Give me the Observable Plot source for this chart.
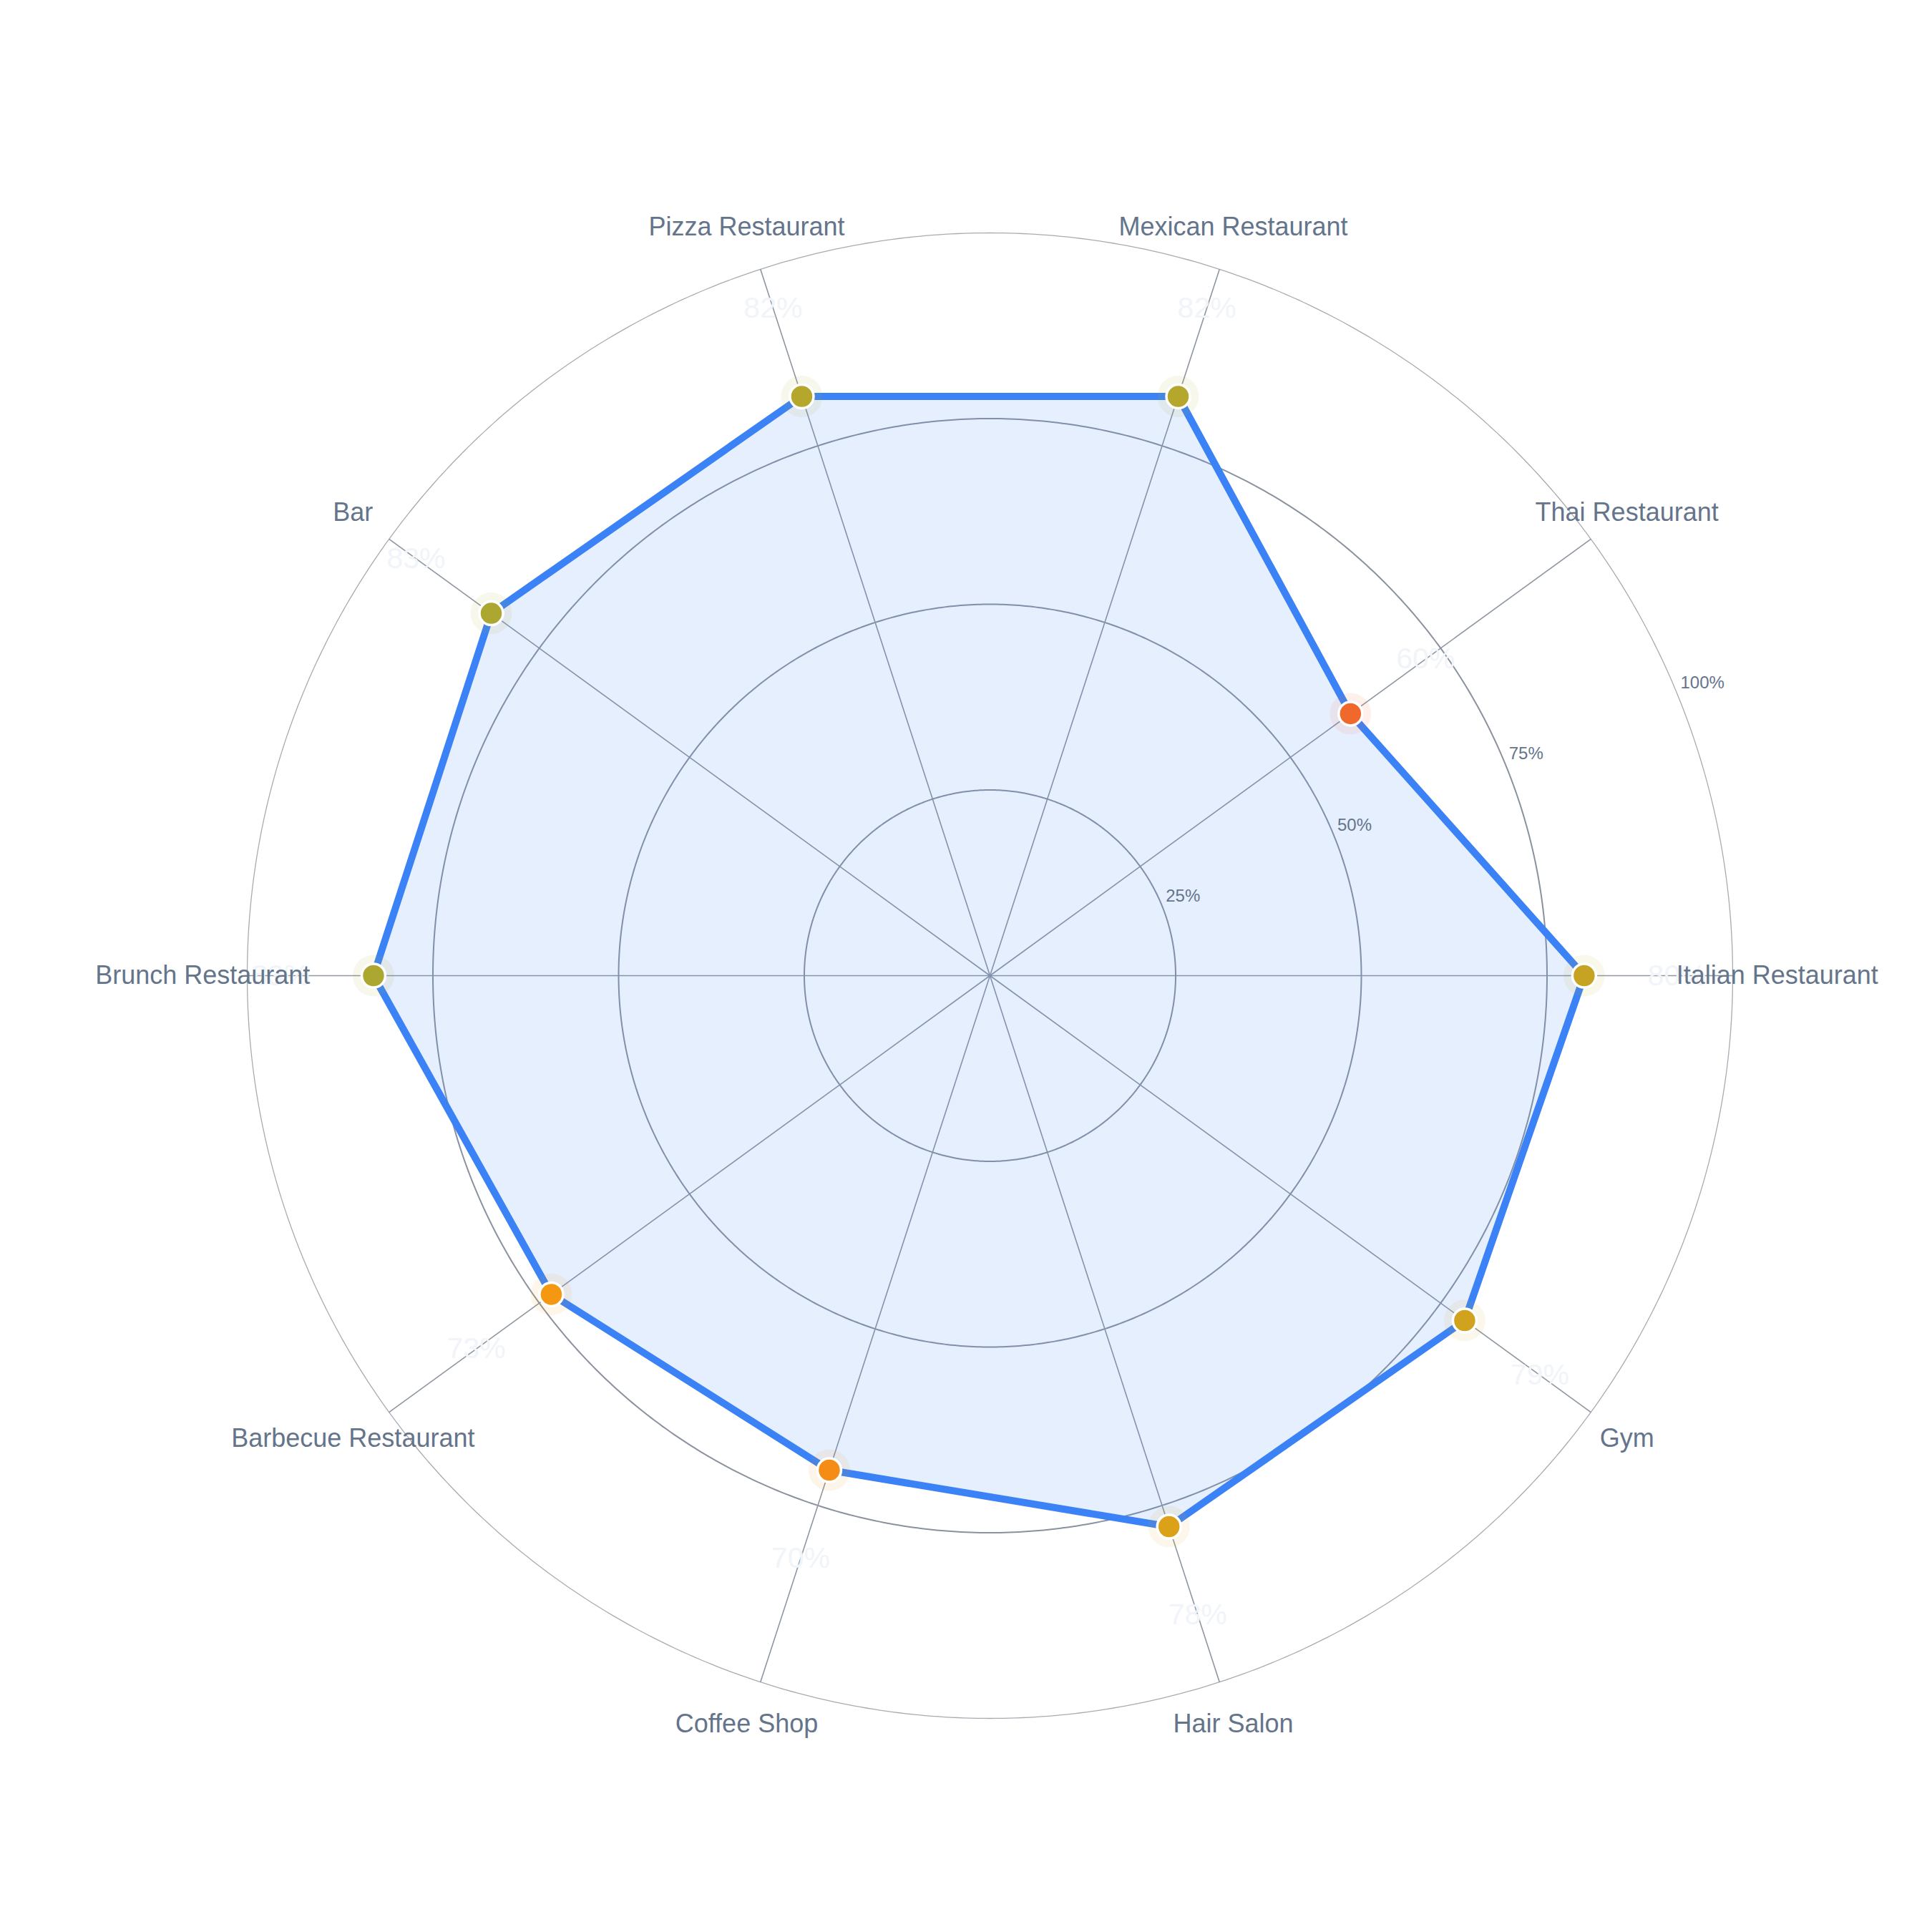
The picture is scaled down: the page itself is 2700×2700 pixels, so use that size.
<!DOCTYPE html>
<html>
<head>
<meta charset="utf-8">
<script src="https://cdn.jsdelivr.net/npm/d3@7"></script>
<script src="https://cdn.jsdelivr.net/npm/@observablehq/plot@0.6"></script>
<style>
  html, body { margin: 0; padding: 0; background: #ffffff; }
  #chart svg { display: block; }
</style>
</head>
<body>
<div id="chart"></div>
<script>
// ---- data ----
const categories = [
  "Italian Restaurant", "Thai Restaurant", "Mexican Restaurant", "Pizza Restaurant", "Bar",
  "Brunch Restaurant", "Barbecue Restaurant", "Coffee Shop", "Hair Salon", "Gym"
];
const values = [80, 60, 82, 82, 83, 83, 73, 70, 78, 79];
const radialTicks = [25, 50, 75, 100];
const radialTickLabels = ["25%", "50%", "75%", "100%"];

// ---- helpers ----
const data = categories.map((c, i) => ({category: c, value: values[i]}));
const step = 360 / categories.length;
const thetaOf = (c) => categories.indexOf(c) * step;      // counterclockwise from east
const lonOf = (theta) => theta + 90;                         // map to projection longitude
const latOf = (r) => 90 - r;                                 // radius -> latitude
const ticks = radialTicks.map((t, i) => ({t, label: radialTickLabels[i]}));
const tickAngle = 22.5;
const domainRadius = 125;   // frame extent in radial units (100 = outer ring)

const chart = Plot.plot({
  width: 2700,
  height: 2700,
  marginLeft: 85.5,
  marginRight: 19.5,
  marginTop: 65.5,
  marginBottom: 39.5,
  projection: {
    type: "azimuthal-equidistant",
    rotate: [0, -90],
    domain: d3.geoCircle().center([0, 90]).radius(domainRadius).precision(1)(),
    inset: 0
  },
  color: {
    type: "linear",
    domain: [50, 75, 100],
    range: ["#ef4444", "#f59e0b", "#10b981"],
    interpolate: "rgb"
  },
  style: {fontFamily: "'Liberation Sans', Arial, Helvetica, sans-serif", background: "#ffffff"},
  marks: [
    // outer ring
    Plot.geo(ticks.filter(d => d.t === 100), {
      geometry: d => d3.geoCircle().center([0, 90]).radius(d.t).precision(0.5)(),
      fill: "none", stroke: "#a7abb2", strokeWidth: 1.3
    }),
    // inner rings
    Plot.geo(ticks.filter(d => d.t < 100), {
      geometry: d => d3.geoCircle().center([0, 90]).radius(d.t).precision(0.5)(),
      fill: "none", stroke: "#8a929e", strokeWidth: 2
    }),
    // spokes
    Plot.link(categories, {
      x1: c => lonOf(thetaOf(c)), y1: 89.9999,
      x2: c => lonOf(thetaOf(c)), y2: latOf(100),
      stroke: "#8e96a1", strokeWidth: 1.6
    }),
    // filled polygon + outline
    Plot.line(data, {
      x: d => lonOf(thetaOf(d.category)),
      y: d => latOf(d.value),
      curve: "linear-closed",
      fill: "#3b82f6", fillOpacity: 0.13,
      stroke: "#3b82f6", strokeWidth: 10, strokeLinejoin: "round"
    }),
    // marker halos
    Plot.dot(data, {
      x: d => lonOf(thetaOf(d.category)),
      y: d => latOf(d.value),
      r: 29, fill: "value", fillOpacity: 0.09, stroke: "none"
    }),
    // markers
    Plot.dot(data, {
      x: d => lonOf(thetaOf(d.category)),
      y: d => latOf(d.value),
      r: 16.5, fill: "value", stroke: "#ffffff", strokeWidth: 3.5
    }),
    // faint value labels
    Plot.text(data, {
      x: d => lonOf(thetaOf(d.category)),
      y: d => latOf(d.value + 12.5),
      text: d => `${d.value}%`,
      fill: "#f1f4f8", fontSize: 41
    }),
    // radial tick labels
    Plot.text(ticks, {
      x: () => lonOf(tickAngle),
      y: d => latOf(d.t),
      text: "label",
      textAnchor: "start",
      dx: 6, dy: -12,
      fill: "#64748b", fontSize: 24
    }),
    // category labels
    Plot.text(categories, {
      x: c => lonOf(thetaOf(c)),
      y: latOf(106),
      text: c => c,
      fill: "#64748b", fontSize: 36
    })
  ]
});

document.getElementById("chart").appendChild(chart);
</script>
</body>
</html>
